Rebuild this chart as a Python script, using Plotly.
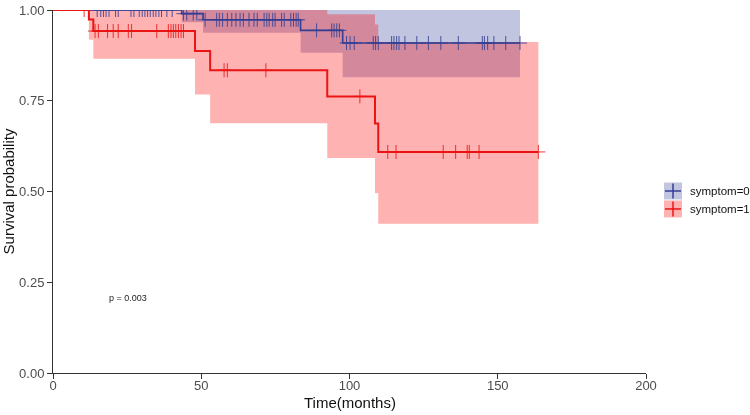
import numpy as np
import plotly.graph_objects as go

# symptom=0 (blue)
t0 = [0, 43.4, 50.6, 83.5, 97.7, 157.5]
s0 = [1.0, 0.990, 0.973, 0.944, 0.909, 0.909]
lo0 = [1.0, 0.966, 0.937, 0.882, 0.815, 0.815]
hi0 = [1.0, 1.0, 1.0, 1.0, 1.0, 1.0]
cens0 = [14.9, 16.1, 17.0, 17.9, 18.9, 21.1, 22.0, 26.3, 27.3, 29.1, 30.1, 31.0,
         31.9, 32.8, 33.8, 34.7, 35.7, 36.6, 38.4, 40.2,
         44.0, 45.1, 47.3, 48.5,
         51.3, 55.2, 56.1, 57.2, 58.8, 60.3, 61.7, 63.1, 64.2, 66.1, 67.8, 68.9,
         71.2, 72.1, 72.9, 74.1, 74.9, 77.1, 78.0, 80.2, 81.1, 82.0, 82.7,
         88.9, 94.0, 94.8, 95.7, 96.6,
         99.0, 100.2, 101.6, 108.0, 108.8, 109.7, 114.2, 115.0, 115.9, 116.7,
         118.7, 122.7, 126.6, 130.8, 136.7, 144.8, 145.5, 146.6, 148.7, 152.7, 157.5]

# symptom=1 (red)
t1 = [0, 12.1, 13.6, 47.9, 53.0, 92.5, 108.6, 109.7, 163.7]
s1 = [1.0, 0.974, 0.942, 0.887, 0.834, 0.762, 0.687, 0.609, 0.609]
lo1 = [1.0, 0.918, 0.866, 0.767, 0.688, 0.592, 0.495, 0.411, 0.411]
hi1 = [1.0, 1.0, 1.0, 1.0, 1.0, 0.988, 0.960, 0.912, 0.912]
cens1 = [10.5,
         14.2, 15.3, 18.4, 20.3, 22.0, 25.4, 26.5, 35.0, 38.9, 39.8, 40.6, 41.4,
         42.3, 43.2, 44.0,
         57.7, 58.8, 71.8,
         103.5,
         112.9, 115.7, 131.6, 135.8, 139.7, 140.4, 143.7, 163.7]

strata = ["symptom=0", "symptom=1"]
x_ticks = [0, 50, 100, 150, 200]
y_ticks = [0, 0.25, 0.5, 0.75, 1.0]

BLUE = "rgb(51,62,148)"
RED = "rgb(235,20,20)"
BLUE_FILL = "rgba(51,62,148,0.3)"
RED_FILL = "rgba(255,0,0,0.3)"

W, H = 750, 415
ML, MR, MT, MB = 53, 104, 9.5, 41.5
PW, PH = W - ML - MR, H - MT - MB


def surv_at(times, surv, pts):
    idx = np.searchsorted(times, pts, side="right") - 1
    return [surv[i] for i in idx]


def px(x):  # figure pixel -> paper x
    return (x - ML) / PW


def py(y):  # figure pixel -> paper y
    return (H - MB - y) / PH


fig = go.Figure()

# confidence bands (blue first, red on top like ggplot)
for t, lo, hi, fc in [(t0, lo0, hi0, BLUE_FILL), (t1, lo1, hi1, RED_FILL)]:
    fig.add_trace(go.Scatter(x=t, y=lo, mode="lines", line=dict(width=0, shape="hv"),
                             showlegend=False, hoverinfo="skip"))
    fig.add_trace(go.Scatter(x=t, y=hi, mode="lines", line=dict(width=0, shape="hv"),
                             fill="tonexty", fillcolor=fc, showlegend=False, hoverinfo="skip"))

# survival curves + censor marks
for t, s, cens, col, w in [(t0, s0, cens0, BLUE, 1.6), (t1, s1, cens1, RED, 2)]:
    fig.add_trace(go.Scatter(x=t, y=s, mode="lines", line=dict(color=col, width=w, shape="hv"),
                             showlegend=False))
    fig.add_trace(go.Scatter(x=cens, y=surv_at(t, s, cens), mode="markers",
                             marker=dict(symbol="cross-thin", size=10,
                                         line=dict(color=col, width=1)),
                             opacity=0.85, showlegend=False))

# hand-drawn legend: filled box with a cross, then label
for i, (name, col, fc) in enumerate(zip(strata, [BLUE, RED], [BLUE_FILL, RED_FILL])):
    cy = 191 + i * 18
    x0, x1 = 664, 682
    y0, y1 = cy - 8.5, cy + 8.5
    fig.add_shape(type="rect", xref="paper", yref="paper",
                  x0=px(x0), x1=px(x1), y0=py(y1), y1=py(y0),
                  fillcolor=fc, line=dict(width=0), layer="above")
    fig.add_shape(type="line", xref="paper", yref="paper",
                  x0=px(x0 + 1), x1=px(x1 - 1), y0=py(cy), y1=py(cy),
                  line=dict(color=col, width=1.5), layer="above")
    fig.add_shape(type="line", xref="paper", yref="paper",
                  x0=px((x0 + x1) / 2), x1=px((x0 + x1) / 2), y0=py(y1 - 1), y1=py(y0 + 1),
                  line=dict(color=col, width=1.5), layer="above")
    fig.add_annotation(xref="paper", yref="paper", x=px(688), y=py(cy), text=name,
                       xanchor="left", yanchor="middle", showarrow=False,
                       font=dict(size=11.5, color="#111"))

fig.add_annotation(x=25.3, y=0.207, text="p = 0.003", showarrow=False,
                   font=dict(size=9, color="#222"))

# x axis title placed directly under the tick labels
fig.add_annotation(xref="paper", yref="paper", x=0.5, y=py(403), text="Time(months)",
                   xanchor="center", yanchor="middle", showarrow=False,
                   font=dict(size=15, color="#111"))

axis_common = dict(showline=True, linecolor="#333", linewidth=1, ticks="outside",
                   ticklen=5, tickcolor="#333", showgrid=False, zeroline=False,
                   tickfont=dict(size=13, color="#4d4d4d"),
                   title_font=dict(size=15, color="#111"))

fig.update_layout(
    width=W, height=H,
    margin=dict(l=ML, r=MR, t=MT, b=MB, autoexpand=False),
    plot_bgcolor="white", paper_bgcolor="white",
    font=dict(family="Liberation Sans, Arial, sans-serif"),
    showlegend=False,
    xaxis=dict(range=[0, 200], tickvals=x_ticks, ticklabelstandoff=-5, **axis_common),
    yaxis=dict(range=[0, 1], tickvals=y_ticks, tickformat=".2f",
               title=dict(text="Survival probability", standoff=3), **axis_common),
)

fig.write_html("out.html", config={"displayModeBar": False},
               post_script="document.body.style.margin='0';")
